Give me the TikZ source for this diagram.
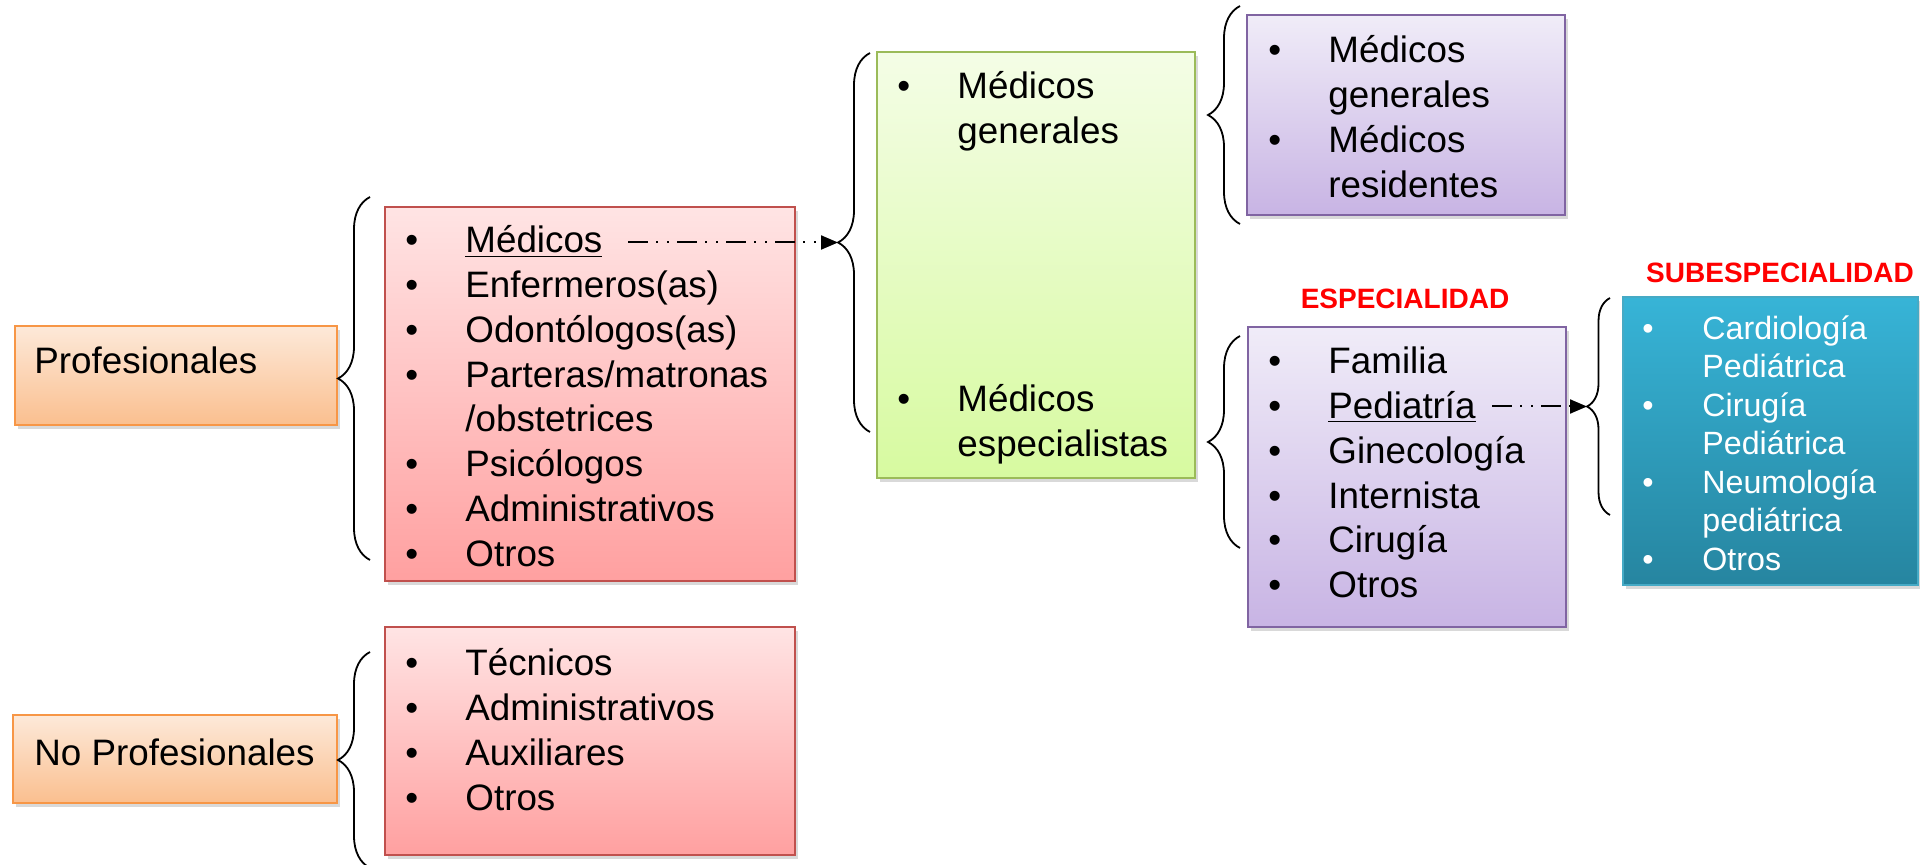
\documentclass[tikz,border=0pt]{standalone}
\usepackage{fontspec}
\setmainfont{Liberation Sans}
\usetikzlibrary{arrows.meta,decorations.pathreplacing,shadows}

\definecolor{narA}{RGB}{253,233,217}
\definecolor{narB}{RGB}{250,191,143}
\definecolor{narL}{RGB}{247,150,70}
\definecolor{rojA}{RGB}{255,228,228}
\definecolor{rojB}{RGB}{255,160,160}
\definecolor{rojL}{RGB}{192,80,77}
\definecolor{verA}{RGB}{244,253,230}
\definecolor{verB}{RGB}{215,250,160}
\definecolor{verL}{RGB}{155,187,89}
\definecolor{morA}{RGB}{240,236,248}
\definecolor{morB}{RGB}{200,180,228}
\definecolor{morL}{RGB}{128,100,162}
\definecolor{azuA}{RGB}{55,180,215}
\definecolor{azuB}{RGB}{38,133,160}
\definecolor{azuL}{RGB}{70,170,197}

\newlength{\bulw}
\setlength{\bulw}{30pt}
\newcommand{\itm}[1]{\makebox[\bulw][l]{\textbullet}#1\strut}
\newcommand{\cnt}[1]{\hspace*{\bulw}#1\strut}

\begin{document}
\begin{tikzpicture}[x=0.5pt,y=-0.5pt,
    caja/.style={draw, line width=0.8pt, inner sep=0pt,
      drop shadow={shadow xshift=1.5pt, shadow yshift=-2pt, opacity=0.3}},
    nar/.style={caja, draw=narL, top color=narA, bottom color=narB},
    roj/.style={caja, draw=rojL, top color=rojA, bottom color=rojB},
    ver/.style={caja, draw=verL, top color=verA, bottom color=verB},
    mor/.style={caja, draw=morL, top color=morA, bottom color=morB},
    azu/.style={caja, draw=azuL, top color=azuA, bottom color=azuB},
    lista/.style={anchor=north west, inner sep=0pt, align=left,
      font=\fontsize{18.4}{22.4}\selectfont},
    titulo/.style={anchor=west, inner sep=0pt, font=\fontsize{18.4}{22.4}\selectfont},
    rotulo/.style={inner sep=0pt, text=red, font=\fontsize{14}{16}\selectfont\bfseries},
    llave/.style={decorate, decoration={brace, amplitude=#1}, line width=0.9pt},
    llave/.default=16pt,
    flecha/.style={-{Triangle[length=8.5pt,width=7pt]}, line width=1pt,
      dash pattern=on 10pt off 4pt on 1pt off 4.5pt on 1pt off 4pt}]

    \useasboundingbox (0,0) rectangle (1920,865);

    % cajas
    \node[nar, minimum width=161pt, minimum height=49.5pt] (prof) at (176,375.5) {};
    \node[nar, minimum width=162pt, minimum height=44pt] (noprof) at (175,759) {};
    \node[roj, minimum width=205pt, minimum height=187pt] (rojA) at (590,394) {};
    \node[roj, minimum width=205pt, minimum height=114pt] (rojB) at (590,741) {};
    \node[ver, minimum width=159pt, minimum height=213pt] (medicos) at (1036,265) {};
    \node[mor, minimum width=159pt, minimum height=100pt] (generales) at (1406,115) {};
    \node[mor, minimum width=159pt, minimum height=150pt] (especial) at (1407,477) {};
    \node[azu, minimum width=147.5pt, minimum height=144pt] (subesp) at (1770.5,441) {};

    % textos
    \node[titulo] (profT) at (34,360) {Profesionales};
    \node[titulo] (noprofT) at (34,752) {No Profesionales};
    \node[lista] (rojAT) at (405,221) {\itm{\underline{Médicos}}\\ \itm{Enfermeros(as)}\\
      \itm{Odontólogos(as)}\\ \itm{Parteras/matronas}\\ \cnt{/obstetrices}\\
      \itm{Psicólogos}\\ \itm{Administrativos}\\ \itm{Otros}};
    \node[lista] (rojBT) at (405,644) {\itm{Técnicos}\\ \itm{Administrativos}\\
      \itm{Auxiliares}\\ \itm{Otros}};
    \node[lista] (genT) at (897,67) {\itm{Médicos}\\ \cnt{generales}};
    \node[lista] (espT) at (897,380) {\itm{Médicos}\\ \cnt{especialistas}};
    \node[lista] (generalesT) at (1268,31) {\itm{Médicos}\\ \cnt{generales}\\
      \itm{Médicos}\\ \cnt{residentes}};
    \node[lista] (especialT) at (1268,342) {\itm{Familia}\\ \itm{\underline{Pediatría}}\\
      \itm{Ginecología}\\ \itm{Internista}\\ \itm{Cirugía}\\ \itm{Otros}};
    \node[lista, text=white, font=\fontsize{16.1}{19.25}\selectfont] (subespT) at (1642,312)
      {\itm{Cardiología}\\ \cnt{Pediátrica}\\ \itm{Cirugía}\\ \cnt{Pediátrica}\\
      \itm{Neumología}\\ \cnt{pediátrica}\\ \itm{Otros}};
    \node[rotulo] (espR) at (1405,299) {ESPECIALIDAD};
    \node[rotulo] (subespR) at (1780,273) {SUBESPECIALIDAD};

    % llaves
    \draw[llave] (370,560) -- (370,197);
    \draw[llave] (370,868) -- (370,652);
    \draw[llave] (870,432) -- (870,53);
    \draw[llave] (1240,224) -- (1240,6);
    \draw[llave] (1240,548) -- (1240,336);
    \draw[llave=11.5pt] (1610,515) -- (1610,298);

    % flechas
    \coordinate (medR) at (628,242.5);
    \coordinate (medL) at (838,242.5);
    \coordinate (pedR) at (1492,406.5);
    \coordinate (pedL) at (1587,406.5);
    \draw[flecha] (medR) -- (medL);
    \draw[flecha] (pedR) -- (pedL);
\end{tikzpicture}
\end{document}
